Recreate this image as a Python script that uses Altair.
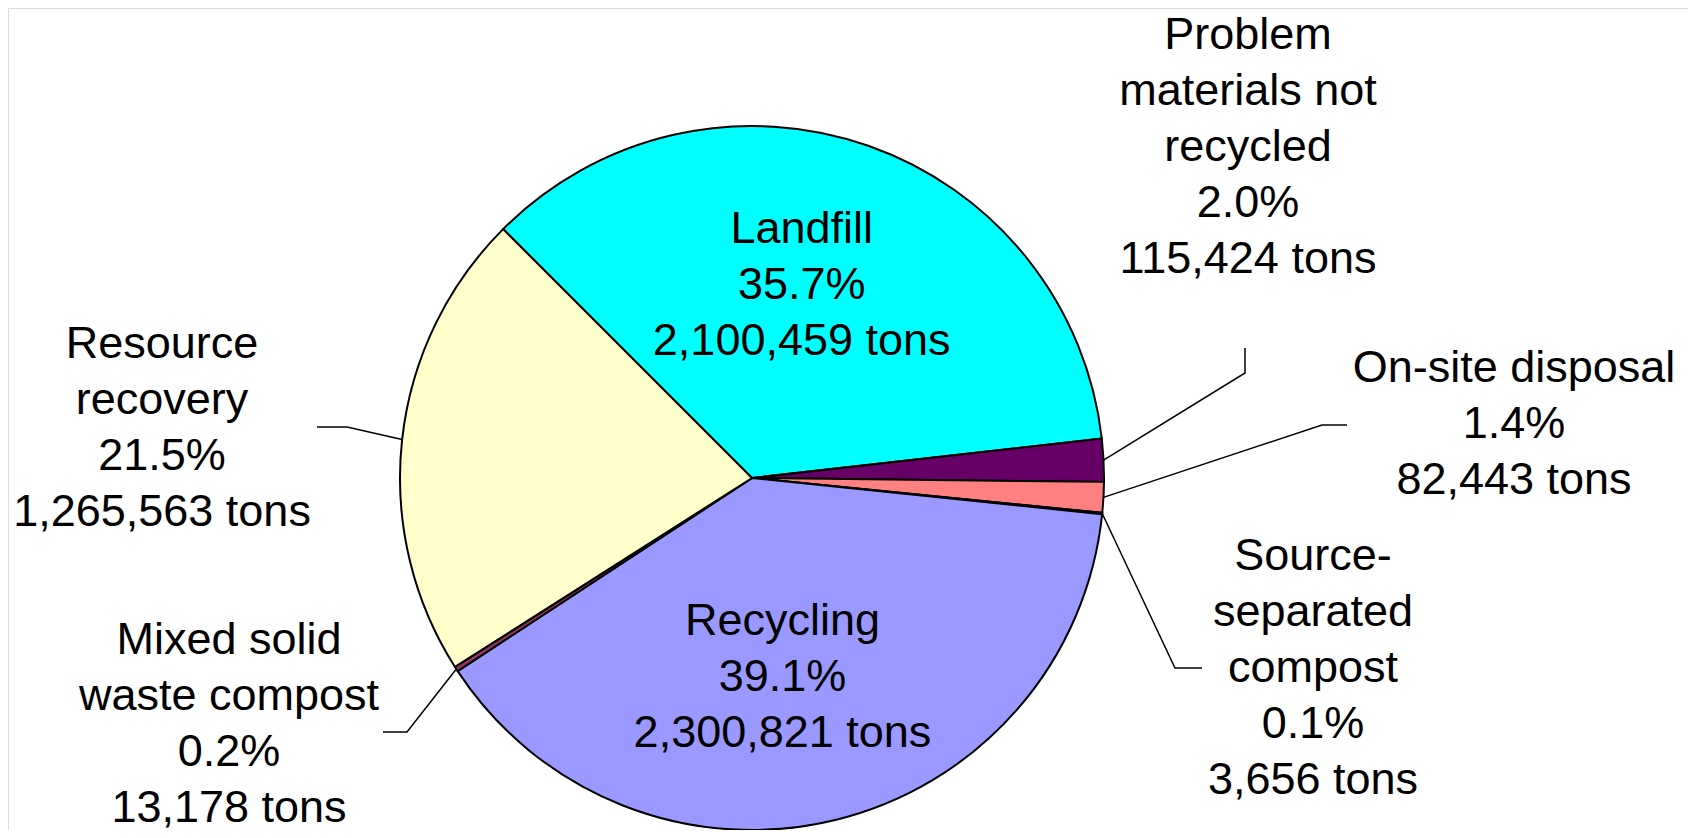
import math
import altair as alt
import pandas as pd

# ---- data ----
categories = ["Landfill", "Problem materials not recycled", "On-site disposal",
              "Source-separated compost", "Recycling", "Mixed solid waste compost",
              "Resource recovery"]
tons = [2100459, 115424, 82443, 3656, 2300821, 13178, 1265563]
percents = ["35.7%", "2.0%", "1.4%", "0.1%", "39.1%", "0.2%", "21.5%"]
label_names = ["Landfill", "Problem\nmaterials not\nrecycled", "On-site disposal",
               "Source-\nseparated\ncompost", "Recycling", "Mixed solid\nwaste compost",
               "Resource\nrecovery"]
colors = ["#00FFFF", "#660066", "#FF8080", "#3366CC", "#9999FF", "#993366", "#FFFFCC"]

# ---- layout ----
CX, CY, R = 744, 470, 352
START = -math.pi / 4
INNER_R = 205
FONT = "Liberation Sans"
FS = 45
LH = 56
inside = {"Landfill", "Recycling"}
# outside label anchor: (x center, first baseline y), elbow points toward label
outside = {
    "Problem materials not recycled": ((1240, 41), [(1237, 365), (1237, 340)]),
    "On-site disposal": ((1506, 374), [(1314, 417), (1339, 417)]),
    "Source-separated compost": ((1305, 562), [(1167, 660), (1194, 660)]),
    "Mixed solid waste compost": ((221, 646), [(399, 724), (375, 724)]),
    "Resource recovery": ((154, 350), [(339, 419), (309, 419)]),
}

full_text = [f"{n}\n{p}\n{t:,} tons" for n, p, t in zip(label_names, percents, tons)]

df = pd.DataFrame({
    "category": categories,
    "tons": tons,
    "order": list(range(len(categories))),
    "inner": [txt if c in inside else "" for c, txt in zip(categories, full_text)],
})

total = sum(tons)
cum = 0
out_rows, line_rows = [], []
for c, t, txt in zip(categories, tons, full_text):
    mid = (cum + t / 2) / total
    cum += t
    if c in outside:
        (lx, ly), elbows = outside[c]
        a = START + 2 * math.pi * mid
        pts = [(CX + R * math.sin(a), CY - R * math.cos(a))] + elbows
        for i, (px, py) in enumerate(pts):
            line_rows.append({"id": c, "seq": i, "x": px, "y": py})
        out_rows.append({"x": lx, "y": ly, "label": txt})
out_df = pd.DataFrame(out_rows)
line_df = pd.DataFrame(line_rows)

theta = alt.Theta("tons:Q", stack=True,
                  scale=alt.Scale(range=[START, START + 2 * math.pi]))
order = alt.Order("order:Q")

pie = alt.Chart(df).mark_arc(outerRadius=R, stroke="black", strokeWidth=2).encode(
    theta=theta,
    color=alt.Color("category:N", scale=alt.Scale(domain=categories, range=colors), legend=None),
    order=order,
    x=alt.value(CX), y=alt.value(CY),
)

inner_text = alt.Chart(df).mark_text(
    radius=INNER_R, font=FONT, fontSize=FS, lineBreak="\n", lineHeight=LH,
    align="center", baseline="middle", color="black", dx=-18, dy=-LH,
).encode(theta=theta, order=order, text="inner:N", x=alt.value(CX), y=alt.value(CY))

leaders = alt.Chart(line_df).mark_line(color="black", strokeWidth=1.5).encode(
    x=alt.X("x:Q", scale=None, axis=None),
    y=alt.Y("y:Q", scale=None, axis=None),
    detail="id:N",
    order="seq:Q",
)

outer_text = alt.Chart(out_df).mark_text(
    font=FONT, fontSize=FS, lineBreak="\n", lineHeight=LH,
    align="center", baseline="alphabetic", color="black",
).encode(
    x=alt.X("x:Q", scale=None, axis=None),
    y=alt.Y("y:Q", scale=None, axis=None),
    text="label:N",
)

chart = alt.layer(pie, inner_text, leaders, outer_text).properties(
    width=1680, height=822, autosize=alt.AutoSizeParams(type="none"), padding=0,
).configure_view(stroke=None).configure(background="white")

chart.save("out.html", embed_options={"renderer": "svg", "actions": False})
